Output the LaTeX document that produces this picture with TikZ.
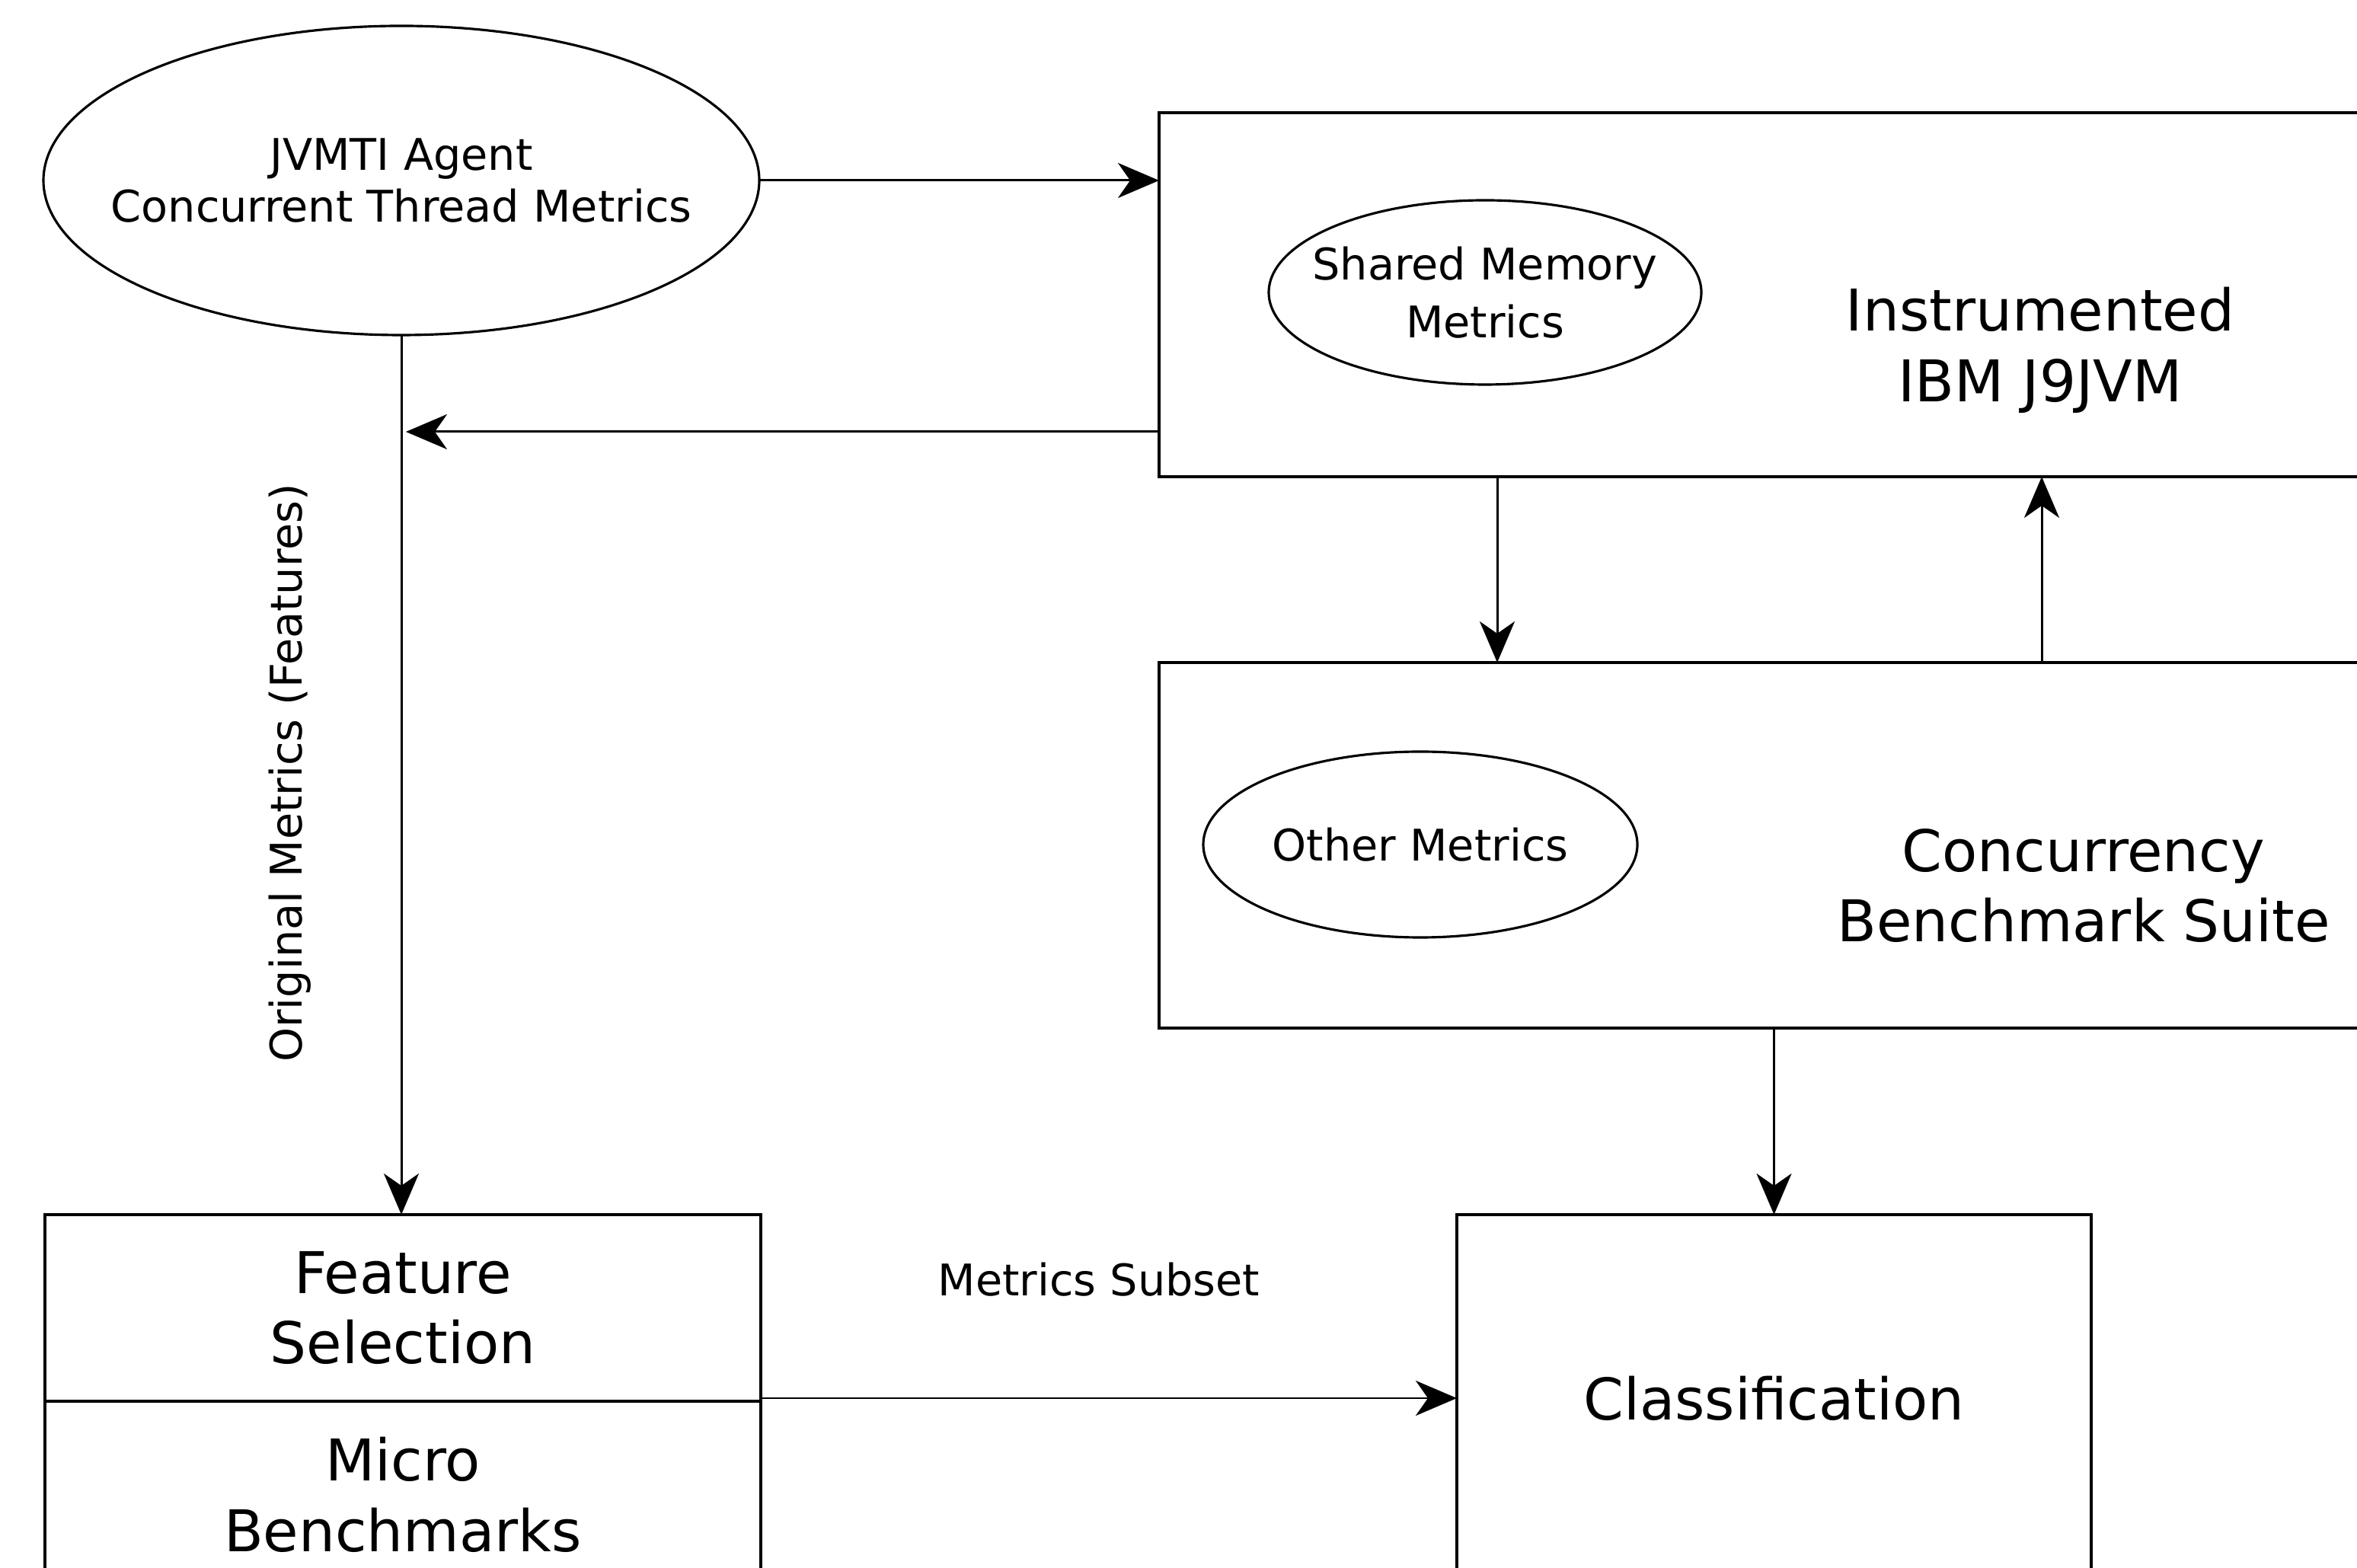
\documentclass[tikz,border=0pt]{standalone}
\usepackage{fontspec}
\setmainfont{DejaVu Sans}
\usetikzlibrary{arrows.meta}
\usetikzlibrary{shapes.geometric}

\begin{document}
\begin{tikzpicture}[
    box/.style={draw, line width=1.3pt, inner sep=0pt, outer sep=0pt},
    oval/.style={draw, ellipse, line width=0.9pt, inner sep=0pt, outer sep=0pt},
    bigtext/.style={align=center, font=\fontsize{21.5}{26.4}\selectfont},
    smalltext/.style={align=center, font=\fontsize{16.3}{19.5}\selectfont},
    flow/.style={line width=0.85pt, -{Stealth[length=5.4mm, width=4.6mm, inset=1.6mm]}}
]
\useasboundingbox (0,0) rectangle (30.95,20.58);
\clip (0,0) rectangle (30.95,20.58);
    % boxes
    \node[box, anchor=north west, minimum width=18cm, minimum height=4.78cm] (instr) at (15.22,19.10) {};
    \node[box, anchor=north west, minimum width=18cm, minimum height=4.80cm] (conc) at (15.22,11.88) {};
    \node[box, anchor=north west, minimum width=9.40cm, minimum height=2.45cm] (feat) at (0.59,4.63) {};
    \node[box, anchor=north west, minimum width=9.40cm, minimum height=2.45cm] (micro) at (feat.south west) {};
    \node[box, anchor=north west, minimum width=8.33cm, minimum height=4.82cm] (class) at (19.13,4.63) {};
    % box texts
    \node[bigtext] (instrtxt) at (26.79,15.98) {Instrumented\\IBM J9JVM};
    \node[bigtext] (conctxt) at (27.36,8.95) {Concurrency\\Benchmark Suite};
    \node[bigtext] (feattxt) at (feat) {Feature\\Selection};
    \node[bigtext] (microtxt) at (micro) {Micro\\Benchmarks};
    \node[bigtext] (classtxt) at (class) {Classification};
    % ellipses
    \node[oval, minimum width=9.40cm, minimum height=4.06cm,
        label={[smalltext]center:JVMTI Agent\\Concurrent Thread Metrics}] (jvmti) at (5.27,18.21) {};
    \node[oval, minimum width=5.68cm, minimum height=2.42cm,
        label={[smalltext, font=\fontsize{16.3}{21.5}\selectfont]center:Shared Memory\\Metrics}] (shmem) at (19.50,16.74) {};
    \node[oval, minimum width=5.70cm, minimum height=2.44cm,
        label={[smalltext]center:Other Metrics}] (other) at (18.65,9.49) {};
    % arrows
    \coordinate (ret) at (5.33,14.91);
    \coordinate (down) at (19.66,0);
    \coordinate (up) at (26.81,0);
    \draw[flow] (jvmti.east) -- (jvmti.east -| instr.west);
    \draw[flow] (instr.west |- ret) -- (ret);
    \draw[flow] (jvmti.south) -- (jvmti.south |- feat.north);
    \draw[flow] (down |- instr.south) -- (down |- conc.north);
    \draw[flow] (up |- conc.north) -- (up |- instr.south);
    \draw[flow] (class.north |- conc.south) -- (class.north);
    \draw[flow] (class.west -| feat.east) -- (class.west)
        node[smalltext, midway, above=1.2cm, xshift=-1.3mm] (subset) {Metrics Subset};
    \node[smalltext, rotate=90] (origlbl) at (3.81,10.43) {Original Metrics (Features)};
\end{tikzpicture}
\end{document}
